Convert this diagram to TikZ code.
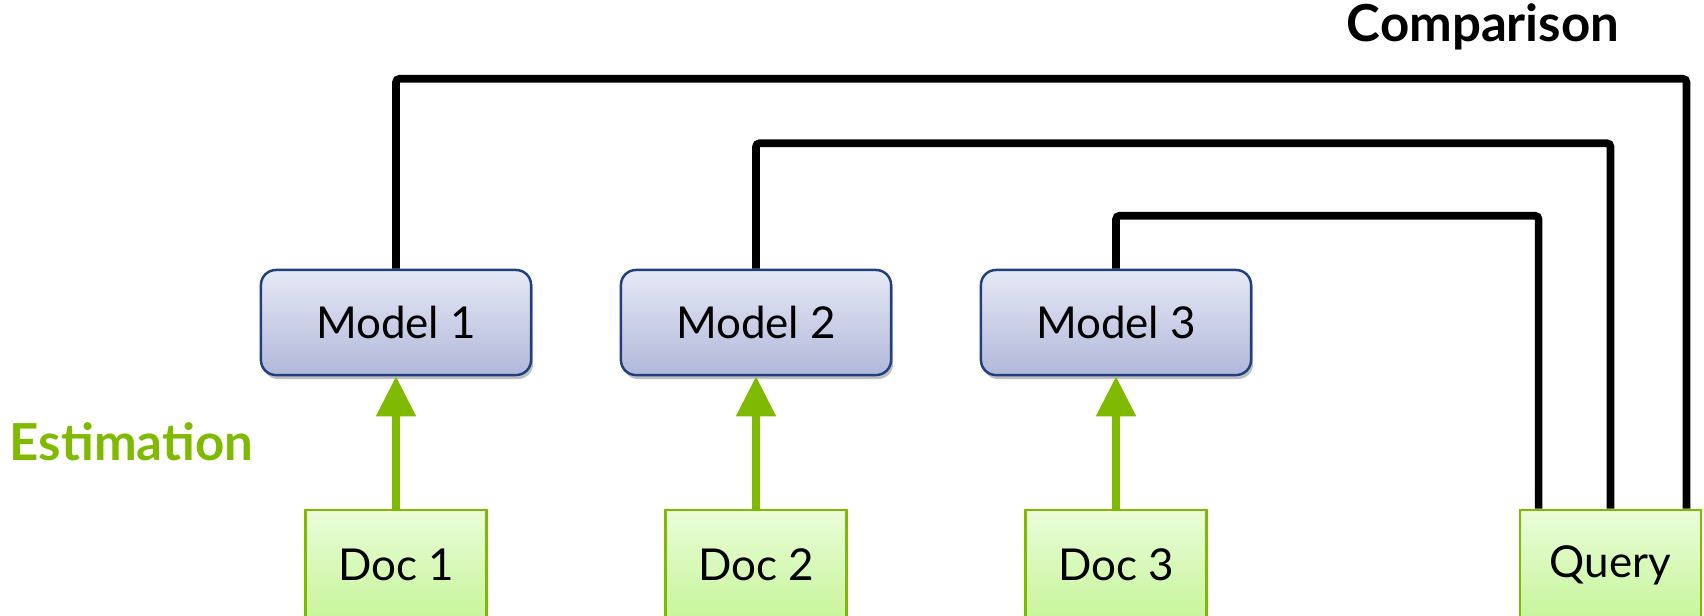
\documentclass[tikz,border=0pt]{standalone}
\usepackage{fontspec}
\setmainfont{Lato}
\usetikzlibrary{arrows.meta,shadows}

\definecolor{modelline}{HTML}{1F3F7F}
\definecolor{modeltop}{HTML}{E6E9F5}
\definecolor{modelbot}{HTML}{B1B8DA}
\definecolor{docline}{HTML}{7FBA00}
\definecolor{doctop}{HTML}{EAFDD9}
\definecolor{docbot}{HTML}{C6F59A}

\begin{document}
\begin{tikzpicture}
            [
                x=0.01cm, y=-0.01cm,
                every node/.style={font=\fontsize{12.5}{15}\selectfont},
                model/.style={draw=modelline, line width=0.7pt,
                    rounded corners=0.15cm,
                    top color=modeltop, bottom color=modelbot,
                    minimum width=2.7cm, minimum height=1.05cm,
                    drop shadow={shadow xshift=0.02cm, shadow yshift=-0.04cm,
                        fill=black, opacity=0.25}},
                doc/.style={draw=docline, line width=0.8pt,
                    top color=doctop, bottom color=docbot,
                    minimum width=1.81cm, minimum height=1.1cm},
                estim/.style={docline, line width=0.08cm,
                    -{Triangle[width=0.38cm, length=0.40cm]}},
                compare/.style={line width=0.076cm, rounded corners=1pt},
                caption/.style={font=\fontsize{14.5}{17}\selectfont\bfseries}
            ]
            \useasboundingbox (0,0) rectangle (1704,615);

            % models built from the documents
            \foreach \i/\x in {1/396, 2/756, 3/1116} {
                \node[model] (m\i) at (\x,322.5) {Model \i};
                \node[doc] (d\i) at (\x,565) {Doc \i};
                \draw[estim] (d\i.north) -- (m\i.south);
            }
            \node[doc] (q) at (1610.5,565) {Query};

            % each model is compared with the query
            \draw[compare] (m1.north) -- ++(0,-190)
                -| ([xshift=-0.16cm]q.north east);
            \draw[compare] (m2.north) -- ++(0,-125.5) -| (q.north);
            \draw[compare] (m3.north) -- ++(0,-53)
                -| ([xshift=0.2cm]q.north west);

            \node[caption, text=docline] (est) at (131.5,442) {Estimation};
            \node[caption] (cmp) at (1483,27) {Comparison};
\end{tikzpicture}
\end{document}
